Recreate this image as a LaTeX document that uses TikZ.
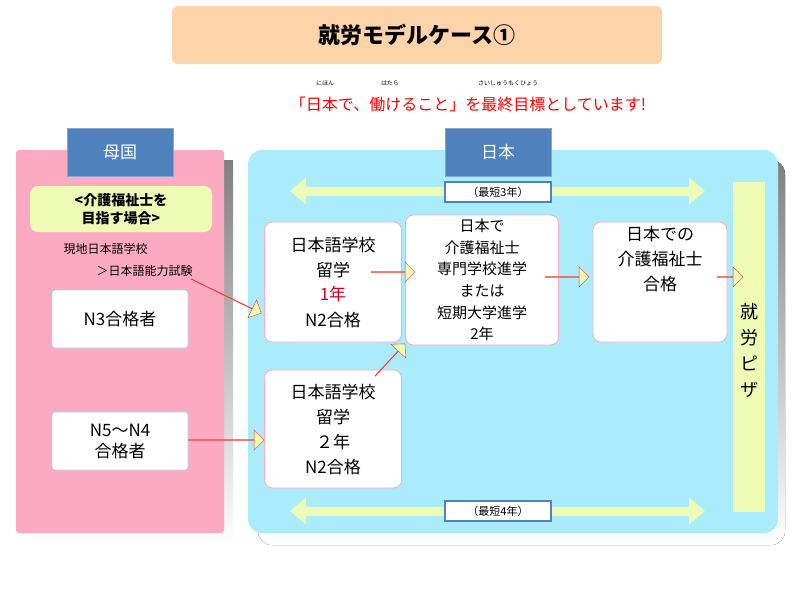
\documentclass[tikz,border=0pt]{standalone}
\usepackage{fontspec}
\setmainfont{Noto Sans CJK JP}
\usetikzlibrary{arrows.meta,positioning,shapes.arrows}
\definecolor{peach}{HTML}{FDD3A9}
\definecolor{tabblue}{HTML}{4F81BD}
\definecolor{skyfill}{HTML}{AAEBFC}
\definecolor{pinkfill}{HTML}{FBAAC2}
\definecolor{paleyel}{HTML}{EEFBB4}
\definecolor{shade}{HTML}{C4C8C8}
\tikzset{
	countrytab/.style={rectangle, fill=tabblue, draw=tabblue!70!white, text=white, minimum width=106pt, minimum height=48pt, font=\fontsize{17}{17}\selectfont},
	stagebox/.style={rectangle, rounded corners=8pt, fill=white, draw=pinkfill, thick, align=center, inner sep=0pt},
	exambox/.style={rectangle, rounded corners=3pt, fill=white, draw=cyan!40, thick, minimum width=136pt, minimum height=58pt, align=center, font=\fontsize{17}{21}\selectfont},
	periodlabel/.style={rectangle, fill=white, draw=tabblue, line width=2pt, minimum width=106pt, minimum height=20pt, inner sep=0pt, font=\fontsize{11}{11}\selectfont},
	blockarrow/.style={single arrow, fill=paleyel, draw=red!80, thin, single arrow head extend=6pt, minimum height=#1, minimum width=20pt, inner sep=0pt},
	periodarrow/.style={{Triangle[length=16pt,width=26pt]}-{Triangle[length=16pt,width=26pt]}, paleyel, line width=9pt}
}
\begin{document}
\begin{tikzpicture}[x=1pt,y=-1pt]
\useasboundingbox (0,0) rectangle (800,600);
% heading
\node [rectangle, rounded corners=6pt, fill=peach, minimum width=490pt, minimum height=58pt, font=\bfseries\fontsize{22}{22}\selectfont] (title) at (417,35) {就労モデルケース①};
\node [font=\fontsize{6}{6}\selectfont] (ruby1) at (325,83) {にほん};
\node [font=\fontsize{6}{6}\selectfont] (ruby2) at (390,83) {はたら};
\node [font=\fontsize{6}{6}\selectfont] (ruby3) at (508,83) {さいしゅうもくひょう};
\node [text=red, font=\fontsize{16}{16}\selectfont] (goal) at (468,104) {「日本で、働けること」を最終目標としています!};
% panels
\fill [shade] (27,160) rectangle (233,545);
\fill [pinkfill, rounded corners=3pt] (16,150) rectangle (224,533);
\fill [shade, rounded corners=14pt] (258,160) rectangle (785,545);
\fill [skyfill, rounded corners=14pt] (248,150) rectangle (778,533);
\node [countrytab] (home) at (120,152) {母国};
\node [countrytab] (japan) at (498,152) {日本};
% home side
\node [rectangle, rounded corners=8pt, fill=paleyel, minimum width=182pt, minimum height=46pt, align=center, font=\bfseries\fontsize{14}{18}\selectfont] (aim) at (121,209) {<介護福祉士を\\目指す場合>};
\node [anchor=west, font=\fontsize{12}{12}\selectfont] (school) at (60,249) {現地日本語学校};
\node [anchor=west, font=\fontsize{12}{12}\selectfont] (test) at (93,271) {＞日本語能力試験};
\node [exambox] (nthree) at (120,319) {N3合格者};
\node [exambox] (nfive) at (120,441) {N5～N4\\合格者};
% japan side
\coordinate (left3) at (290,191);
\coordinate (right3) at (705,191);
\draw [periodarrow] (left3) -- (right3);
\node [periodlabel] (short3) at (498,192) {（最短3年）};
\coordinate (left4) at (290,511);
\coordinate (right4) at (705,511);
\draw [periodarrow] (left4) -- (right4);
\node [periodlabel] (short4) at (498,511) {（最短4年）};
\node [stagebox, minimum width=137pt, minimum height=120pt, font=\fontsize{17}{25}\selectfont] (oneyear) at (333,282) {日本語学校\\留学\\\textcolor{red!85!blue}{1年}\\N2合格};
\node [stagebox, minimum width=137pt, minimum height=118pt, font=\fontsize{17}{25}\selectfont] (twoyear) at (333,429) {日本語学校\\留学\\２年\\N2合格};
\node [stagebox, minimum width=153pt, minimum height=130pt, font=\fontsize{15}{21.6}\selectfont] (college) at (482,280) {日本で\\介護福祉士\\専門学校進学\\または\\短期大学進学\\2年};
\node [stagebox, minimum width=134pt, minimum height=120pt, font=\fontsize{17}{25}\selectfont] (license) at (660,282) {日本での\\介護福祉士\\合格\\[22pt]};
\node [rectangle, fill=paleyel, minimum width=32pt, minimum height=330pt, inner sep=0pt] (visa) at (749,347) {};
\node [align=center, font=\fontsize{18}{26}\selectfont] (visatext) at (749,350) {就\\労\\ピ\\ザ};
% block arrows
\node [blockarrow=78pt, rotate=-26] (a1) at (226,296) {};
\node [blockarrow=76pt] (a2) at (226,440) {};
\node [blockarrow=44pt] (a3) at (393,272) {};
\node [blockarrow=44pt, rotate=47] (a4) at (390,360) {};
\node [blockarrow=44pt] (a5) at (567,277) {};
\node [blockarrow=26pt] (a6) at (730,277) {};
\end{tikzpicture}
\end{document}
